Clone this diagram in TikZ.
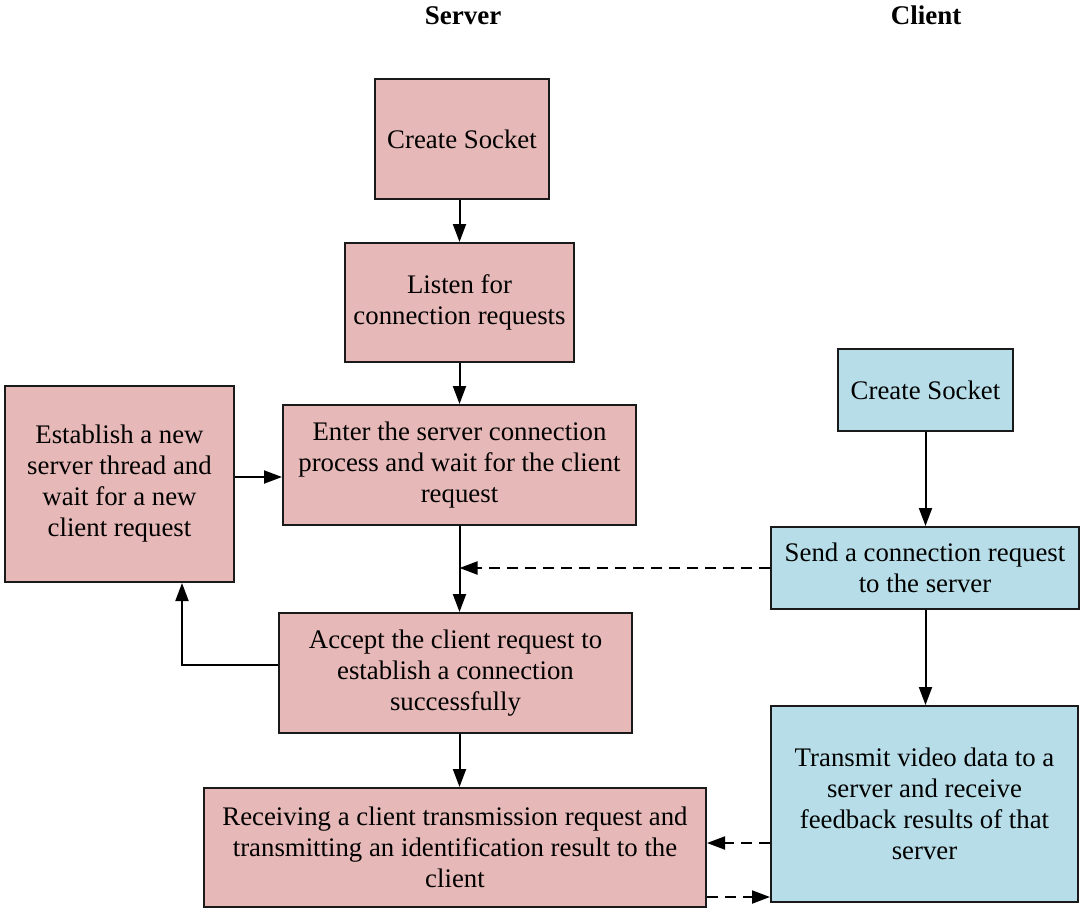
\documentclass[tikz,border=0pt]{standalone}
\usepackage{fontspec}
\setmainfont{Liberation Serif}
\usetikzlibrary{arrows.meta}
\definecolor{srvfill}{HTML}{E6B8B7}
\definecolor{clifill}{HTML}{B7DEE8}
\definecolor{edge}{HTML}{1A1A1A}
\tikzset{
  box/.style={draw=edge, line width=2pt, rectangle, align=center, inner sep=0pt,
    font=\fontsize{26.8}{31}\selectfont},
  srv/.style={box, fill=srvfill},
  cli/.style={box, fill=clifill},
  arr/.style={line width=2pt, draw=black, -{Triangle[length=18pt,width=13pt]}},
  darr/.style={arr, dash pattern=on 11pt off 7pt},
  ttl/.style={font=\fontsize{27}{30}\selectfont\bfseries, anchor=base}
}
\begin{document}
\begin{tikzpicture}[x=1pt,y=-1pt]
\useasboundingbox (0,0) rectangle (1084,913);
\fill[white] (0,0) rectangle (1084,913);
% titles
\node[ttl] (tserver) at (463,24) {Server};
\node[ttl] (tclient) at (926,24) {Client};
% server boxes
\node[srv, minimum width=174pt, minimum height=120pt] (scs) at (462,139) {Create Socket};
\node[srv, minimum width=229pt, minimum height=119pt] (lis) at (459.5,302.5) {Listen for\\connection requests};
\node[srv, minimum width=353pt, minimum height=120pt] (ent) at (459.5,465) {Enter the server connection\\process and wait for the client\\request};
\node[srv, minimum width=229pt, minimum height=196pt] (est) at (119.5,484) {Establish a new\\server thread and\\wait for a new\\client request};
\node[srv, minimum width=353pt, minimum height=120pt] (acc) at (455.5,673) {Accept the client request to\\establish a connection\\successfully};
\node[srv, minimum width=502pt, minimum height=119pt] (rec) at (455,847.5) {Receiving a client transmission request and\\transmitting an identification result to the\\client};
% client boxes
\node[cli, minimum width=175pt, minimum height=82pt] (ccs) at (925.5,390) {Create Socket};
\node[cli, minimum width=308pt, minimum height=82pt] (snd) at (925,568) {Send a connection request\\to the server};
\node[cli, minimum width=307pt, minimum height=196pt] (trn) at (924.5,804) {Transmit video data to a\\server and receive\\feedback results of that\\server};
% server flow
\draw[arr] (scs.south -| lis.north) -- (lis.north);
\draw[arr] (lis.south) -- (ent.north);
\draw[arr] (ent.south) -- (ent.south |- acc.north);
\draw[arr] (ent.south |- acc.south) -- (ent.south |- rec.north);
\draw[arr] ([yshift=8pt]acc.west) -| ([xshift=62.5pt]est.south);
\draw[arr] ([yshift=7pt]est.east) -- ([yshift=7pt]est.east -| ent.west);
% client flow
\draw[arr] (ccs.south) -- (ccs.south |- snd.north);
\draw[arr] (ccs.south |- snd.south) -- (ccs.south |- trn.north);
% cross connections
\draw[darr] (snd.west) -- (snd.west -| ent.south);
\draw[darr] ([yshift=-39pt]trn.west) -- ([yshift=-39pt]trn.west -| rec.east);
\draw[darr] ([yshift=-49.5pt]rec.east) -- ([yshift=-49.5pt]rec.east -| trn.west);
\end{tikzpicture}
\end{document}
